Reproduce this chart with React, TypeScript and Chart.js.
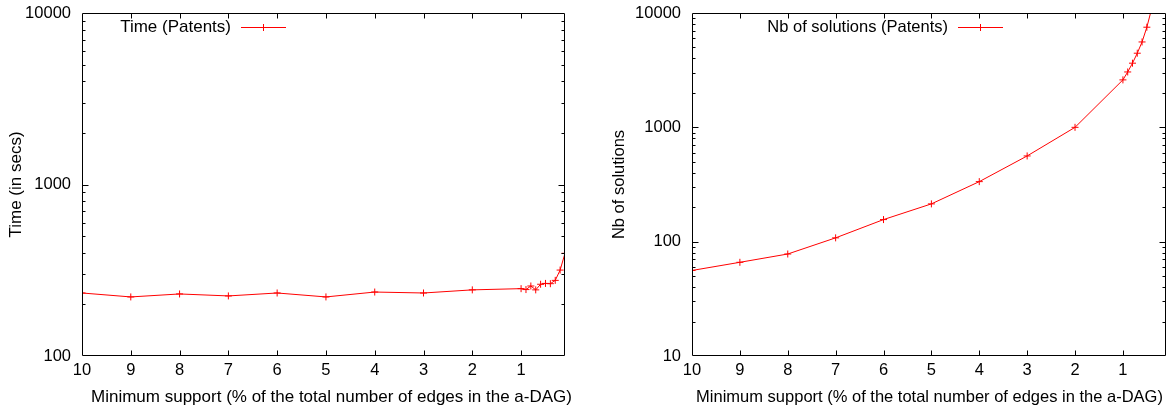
import React, { useEffect, useRef } from 'react';
import { Chart, registerables } from 'chart.js';

Chart.register(...registerables);

// ---- data ----
const supportTime = [10, 9, 8, 7, 6, 5, 4, 3, 2, 1, 0.9, 0.8, 0.7, 0.6, 0.5, 0.4, 0.3, 0.2, 0.1];
const timeSecs = [233, 221, 230, 224, 233, 221, 236, 233, 243, 247, 244, 256, 243, 262, 265, 264, 276, 317, 397];
const supportSolutions = [10, 9, 8, 7, 6, 5, 4, 3, 2, 1, 0.9, 0.8, 0.7, 0.6, 0.5, 0.4];
const nbSolutions = [56, 66, 78, 108, 156, 214, 335, 562, 1000, 2600, 3050, 3640, 4450, 5580, 7510, 10900];
const xTickValues = [10, 9, 8, 7, 6, 5, 4, 3, 2, 1];
const timeTickValues = [100, 1000, 10000];
const solutionTickValues = [10, 100, 1000, 10000];
const xTitle = 'Minimum support (% of the total number of edges in the a-DAG)';
const timeLabel = 'Time (Patents)';
const solutionsLabel = 'Nb of solutions (Patents)';

const FONT = 'Liberation Sans, Arial, Helvetica, sans-serif';
const RED = '#ff0000';
const TICK_SIZE = 16.5;

type PanelProps = {
  xs: number[];
  ys: number[];
  label: string;
  yTitle: string;
  yMin: number;
  yMax: number;
  yTicks: number[];
  left: number;
  width: number;
  yAxisWidth: number;
  padRight: number;
  yTitlePad: number;
  legendX: number;
  xTitleX: number;
  titleSize: number;
};

function makeFramePlugin(
  legendX: number,
  legendY: number,
  label: string,
  xTitleX: number,
  xTitleY: number,
  titleSize: number
) {
  return {
    id: 'gnuFrame',
    afterDraw(chart: any) {
      const { ctx, chartArea: a, scales } = chart;
      const xs = scales.x;
      const ys = scales.y;
      ctx.save();
      ctx.strokeStyle = '#000';
      ctx.lineWidth = 1;
      const L = Math.round(a.left) + 0.5;
      const R = Math.round(a.right) - 0.5;
      const T = Math.round(a.top) + 0.5;
      const B = Math.round(a.bottom) - 0.5;
      ctx.beginPath();
      ctx.rect(L, T, R - L, B - T);
      for (const v of xTickValues) {
        const px = Math.round(xs.getPixelForValue(v)) + 0.5;
        if (px <= L + 1 || px >= R - 1) continue;
        ctx.moveTo(px, B);
        ctx.lineTo(px, B - 5);
        ctx.moveTo(px, T);
        ctx.lineTo(px, T + 5);
      }
      const lo = Math.pow(10, Math.floor(Math.log10(ys.min)));
      for (let d = lo; d < ys.max * 1.0001; d *= 10) {
        for (let m = 1; m <= 9; m++) {
          const v = d * m;
          if (v > ys.max * 1.0001) break;
          const py = Math.round(ys.getPixelForValue(v)) + 0.5;
          if (py <= T + 1 || py >= B - 1) continue;
          const len = m === 1 ? 6 : 3;
          ctx.moveTo(L, py);
          ctx.lineTo(L + len, py);
          ctx.moveTo(R, py);
          ctx.lineTo(R - len, py);
        }
      }
      ctx.stroke();

      ctx.font = `${titleSize}px ${FONT}`;
      ctx.fillStyle = '#000';
      // x-axis title
      ctx.textAlign = 'center';
      ctx.textBaseline = 'middle';
      ctx.fillText(xTitle, xTitleX, xTitleY);

      // legend (gnuplot style: text, then sample)
      ctx.textAlign = 'right';
      ctx.fillText(label, legendX - 10, legendY);
      ctx.strokeStyle = RED;
      ctx.beginPath();
      ctx.moveTo(legendX, legendY + 0.5);
      ctx.lineTo(legendX + 45, legendY + 0.5);
      const mx = legendX + 22.5;
      ctx.moveTo(mx - 3.5, legendY + 0.5);
      ctx.lineTo(mx + 3.5, legendY + 0.5);
      ctx.moveTo(mx, legendY - 3);
      ctx.lineTo(mx, legendY + 4);
      ctx.stroke();
      ctx.restore();
    },
  };
}

function Panel(p: PanelProps) {
  const ref = useRef<HTMLCanvasElement | null>(null);
  useEffect(() => {
    if (!ref.current) return;
    const chart = new Chart(ref.current, {
      type: 'line',
      data: {
        datasets: [
          {
            label: p.label,
            data: p.xs.map((x, i) => ({ x, y: p.ys[i] })),
            borderColor: RED,
            backgroundColor: RED,
            borderWidth: 1,
            pointStyle: 'cross',
            pointRadius: 3.5,
            pointBorderWidth: 1,
            pointBorderColor: RED,
            tension: 0,
            fill: false,
          },
        ],
      },
      options: {
        animation: false,
        responsive: false,
        maintainAspectRatio: false,
        layout: { padding: { top: 13, right: p.padRight, left: 0, bottom: 0 } },
        plugins: { legend: { display: false }, tooltip: { enabled: false } },
        scales: {
          x: {
            type: 'linear',
            reverse: true,
            min: 0.1,
            max: 10,
            afterBuildTicks: (s: any) => {
              s.ticks = xTickValues.map((v) => ({ value: v }));
            },
            afterFit: (s: any) => {
              s.height = 57;
              s.paddingLeft = 0;
              s.paddingRight = 0;
            },
            grid: { display: false, drawTicks: false },
            border: { display: false },
            ticks: {
              color: '#000',
              padding: 5,
              maxRotation: 0,
              autoSkip: false,
              font: { family: FONT, size: TICK_SIZE },
              callback: (v: any) => String(v),
            },
            title: { display: false },
          },
          y: {
            type: 'logarithmic',
            min: p.yMin,
            max: p.yMax,
            afterBuildTicks: (s: any) => {
              s.ticks = p.yTicks.map((v) => ({ value: v }));
            },
            afterFit: (s: any) => {
              s.width = p.yAxisWidth;
              s.paddingTop = 0;
              s.paddingBottom = 0;
            },
            grid: { display: false, drawTicks: false },
            border: { display: false },
            ticks: {
              color: '#000',
              padding: 11,
              autoSkip: false,
              font: { family: FONT, size: TICK_SIZE },
              callback: (v: any) => String(v),
            },
            title: {
              display: true,
              text: p.yTitle,
              color: '#000',
              font: { family: FONT, size: p.titleSize },
              padding: { top: p.yTitlePad, bottom: 0 },
            },
          },
        },
      },
      plugins: [makeFramePlugin(p.legendX, 27, p.label, p.xTitleX, 397, p.titleSize)],
    } as any);
    return () => chart.destroy();
  }, []);
  return (
    <canvas
      ref={ref}
      width={p.width}
      height={413}
      style={{ position: 'absolute', left: p.left, top: 0, width: p.width, height: 413, display: 'block' }}
    />
  );
}

export default function App() {
  return (
    <div style={{ position: 'absolute', left: 0, top: 0, width: 1171, height: 413, background: '#fff' }}>
      <Panel
        xs={supportTime}
        ys={timeSecs}
        label={timeLabel}
        yTitle="Time (in secs)"
        yMin={100}
        yMax={10000}
        yTicks={timeTickValues}
        left={0}
        width={585}
        yAxisWidth={82}
        padRight={20}
        yTitlePad={6}
        legendX={241}
        xTitleX={331.5}
        titleSize={17}
      />
      <Panel
        xs={supportSolutions}
        ys={nbSolutions}
        label={solutionsLabel}
        yTitle="Nb of solutions"
        yMin={10}
        yMax={10000}
        yTicks={solutionTickValues}
        left={600}
        width={571}
        yAxisWidth={92}
        padRight={3}
        yTitlePad={10}
        legendX={358}
        xTitleX={329.5}
        titleSize={16.5}
      />
    </div>
  );
}
